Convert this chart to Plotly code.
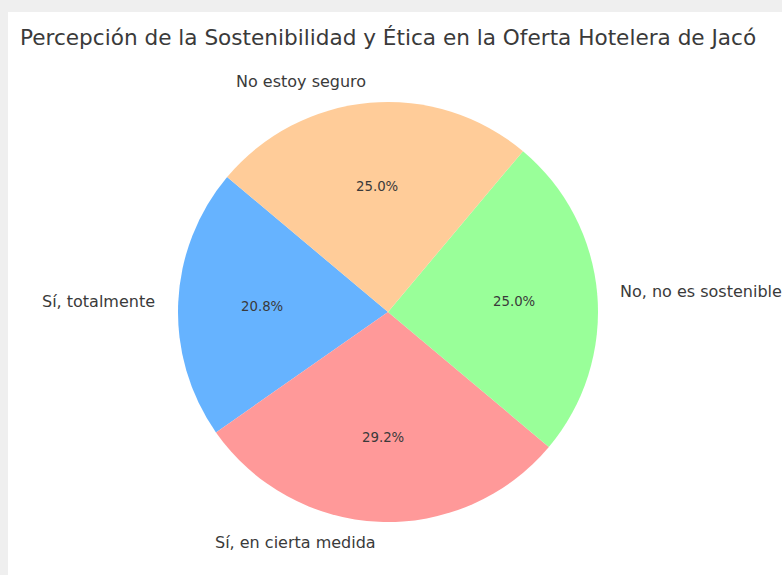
import math
import plotly.graph_objects as go

labels = ["Sí, totalmente", "Sí, en cierta medida", "No, no es sostenible", "No estoy seguro"]
counts = [5, 7, 6, 6]
colors = ["#66b3ff", "#ff9999", "#99ff99", "#ffcc99"]
title = "Percepción de la Sostenibilidad y Ética en la Oferta Hotelera de Jacó"
start_angle = 140  # degrees, counterclockwise from 3 o'clock (first slice start)

W, H = 782, 575
cx, cy, r = 388, 312, 210
font = "DejaVu Sans"
txt_color = "#3a3a3a"

total = sum(counts)
# plotly (counterclockwise): first slice ends at 90 - rotation (math angle)
rotation = 90 - (start_angle + 360 * counts[0] / total)

fig = go.Figure()
fig.add_trace(go.Pie(
    labels=labels, values=counts, sort=False, direction="counterclockwise",
    rotation=rotation, marker=dict(colors=colors, line=dict(width=0)),
    textinfo="none", hoverinfo="label+percent", showlegend=False,
    domain=dict(x=[(cx - r) / W, (cx + r) / W], y=[(H - cy - r) / H, (H - cy + r) / H]),
))

def to_paper(d, ang):
    x = cx + d * math.cos(math.radians(ang))
    y = cy - d * math.sin(math.radians(ang))
    return x / W, 1 - y / H

annotations = []
a0 = start_angle
for lab, v in zip(labels, counts):
    span = 360 * v / total
    mid = a0 + span / 2
    a0 += span
    px, py = to_paper(1.1 * r, mid)
    annotations.append(dict(x=px, y=py, xref="paper", yref="paper", text=lab, showarrow=False,
                            xanchor="left" if math.cos(math.radians(mid)) > 0 else "right",
                            yanchor="middle", font=dict(family=font, size=16, color=txt_color)))
    px, py = to_paper(0.6 * r, mid)
    annotations.append(dict(x=px, y=py, xref="paper", yref="paper", text=f"{100 * v / total:.1f}%",
                            showarrow=False, xanchor="center", yanchor="middle",
                            font=dict(family=font, size=13.3, color=txt_color)))

annotations.append(dict(x=18 / W, y=1 - 37 / H, xref="paper", yref="paper", text=title, showarrow=False,
                        xanchor="left", yanchor="middle", font=dict(family=font, size=21.6, color=txt_color)))

fig.update_layout(
    width=W, height=H, margin=dict(l=0, r=0, t=0, b=0),
    paper_bgcolor="#efefef", plot_bgcolor="white",
    annotations=annotations,
    shapes=[dict(type="rect", xref="paper", yref="paper", x0=8 / W, x1=1, y0=0, y1=1 - 12 / H,
                 fillcolor="white", line=dict(width=0), layer="below")],
)
fig.write_html("out.html", config={"displayModeBar": False},
               post_script="document.body.style.margin='0';document.body.style.overflow='hidden';")
